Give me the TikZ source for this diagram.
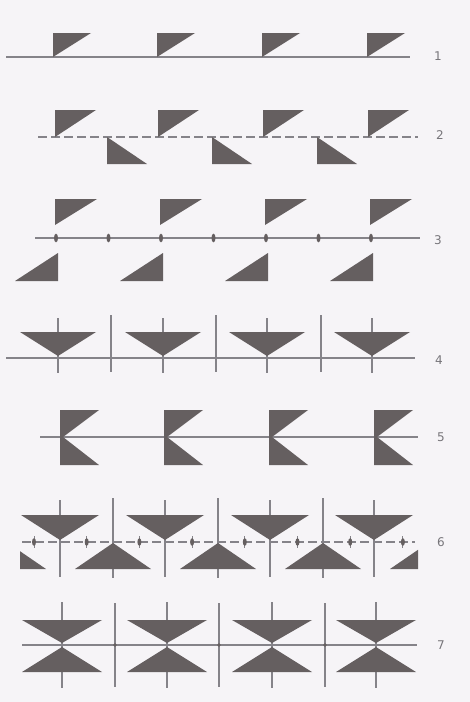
\documentclass[tikz,border=0pt]{standalone}
\usepackage{fontspec}
\setsansfont{DejaVu Sans}
\definecolor{bg}{HTML}{F6F4F7}
\definecolor{ink}{HTML}{655F60}
\definecolor{ln}{HTML}{858389}
\definecolor{lab}{HTML}{77757A}
\tikzset{
  shp/.style={fill=ink, draw=none},
  axis/.style={draw=ln, line width=1.2pt},
  dashaxis/.style={draw=ln, line width=1.3pt, dash pattern=on 9pt off 4pt},
  tick/.style={draw=ln, line width=1.3pt},
  lbl/.style={text=lab, font=\sffamily\fontsize{12}{12}\selectfont, inner sep=0pt}
}
\begin{document}
\begin{tikzpicture}[x=1pt,y=-1pt]
\fill[bg] (0,0) rectangle (470,702);
\useasboundingbox (0,0) rectangle (470,702);

% ---- Row 1
\draw[axis] (6,57) -- (410,57);
\foreach \x in {53,157,262,367}
  \fill[shp] (\x,33) -- (\x+38,33) -- (\x,57) -- cycle;
\node[lbl] (l1) at (438,56) {1};

% ---- Row 2
\draw[dashaxis] (38,137) -- (418,137);
\foreach \x in {55,158,263,368}
  \fill[shp] (\x,110) -- (\x+41,110) -- (\x,137) -- cycle;
\foreach \x in {107,212,317}
  \fill[shp] (\x,137) -- (\x,164) -- (\x+40,164) -- cycle;
\node[lbl] (l2) at (440,135) {2};

% ---- Row 3
\draw[axis] (35,238) -- (420,238);
\foreach \x in {55,160,265,370}{
  \fill[shp] (\x,199) -- (\x+42,199) -- (\x,225) -- cycle;
  \fill[shp] (\x+3,253) -- (\x+3,281) -- (\x-40,281) -- cycle;
}
\foreach \k in {0,...,6}
  \fill[ink] (56+52.5*\k,238) ellipse [x radius=2, y radius=4.4];
\node[lbl] (l3) at (438,240) {3};

% ---- Row 4
\draw[axis] (6,358) -- (415,358);
\foreach \c in {58,163,267,372}{
  \draw[tick] (\c,318) -- (\c,373);
  \fill[shp] (\c-38,332) -- (\c+38,332) -- (\c,356) -- cycle;
}
\foreach \s in {111,216,321}
  \draw[tick] (\s,315) -- (\s,372);
\node[lbl] (l4) at (439,360) {4};

% ---- Row 5
\draw[axis] (40,437) -- (418,437);
\foreach \x in {60,164,269,374}
  \fill[shp] (\x,410) -- (\x+39,410) -- (\x+3,437) -- (\x+39,465) -- (\x,465) -- cycle;
\node[lbl] (l5) at (441,437) {5};

% ---- Row 6
\draw[dashaxis] (22,542) -- (415,542);
\foreach \c in {60,165,270,374}{
  \draw[tick] (\c,500) -- (\c,577);
  \fill[shp] (\c-39,515) -- (\c+39,515) -- (\c,540) -- cycle;
}
\foreach \u in {113,218,323}{
  \draw[tick] (\u,498) -- (\u,578);
  \fill[shp] (\u,543) -- (\u-38,569) -- (\u+38,569) -- cycle;
}
\fill[shp] (20,551.2) -- (46,569) -- (20,569) -- cycle;
\fill[shp] (418,549.8) -- (418,569) -- (390,569) -- cycle;
\foreach \k in {0,...,7}{
  \draw[tick, line width=1pt] (34+52.7*\k,536) -- (34+52.7*\k,548);
  \fill[ink] (34+52.7*\k,542) ellipse [x radius=2, y radius=3.8];
}
\node[lbl] (l6) at (441,542) {6};

% ---- Row 7
\draw[axis] (22,645) -- (417,645);
\foreach \c in {62,167,272,376}{
  \draw[tick] (\c,602) -- (\c,688);
  \fill[shp] (\c-40,620) -- (\c+40,620) -- (\c,643) -- cycle;
  \fill[shp] (\c,647) -- (\c-40,672) -- (\c+40,672) -- cycle;
}
\foreach \s in {115,219,325}{
  \draw[tick] (\s,603) -- (\s,687);
  \fill[ink] (\s,645) circle [radius=1.8];
}
\node[lbl] (l7) at (441,645) {7};
\end{tikzpicture}
\end{document}
